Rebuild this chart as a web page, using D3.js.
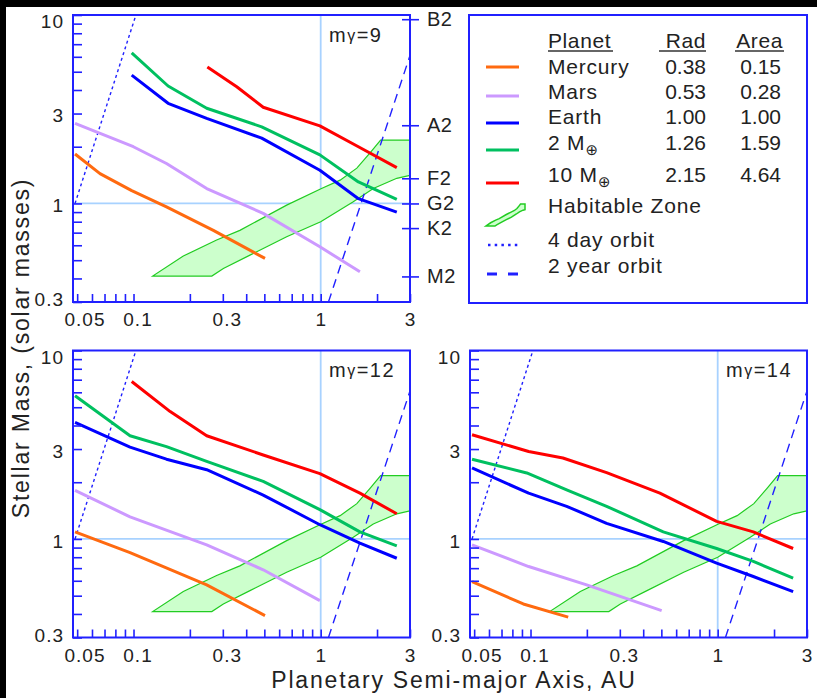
<!DOCTYPE html>
<html><head><meta charset="utf-8">
<script src="https://cdn.jsdelivr.net/npm/d3@7"></script>
<style>
html,body{margin:0;padding:0;background:#000;overflow:hidden;}
svg{display:block;}
text{font-family:"Liberation Sans",Arial,Helvetica,sans-serif;fill:#222;}
</style>
</head><body>
<svg id="c" width="817" height="698"></svg>
<script>
// ---------------- DATA ----------------
const planetNames = ["Mercury", "Mars", "Earth", "2 M", "10 M"];
const planetRad   = ["0.38", "0.53", "1.00", "1.26", "2.15"];
const planetArea  = ["0.15", "0.28", "1.00", "1.59", "4.64"];

// [semi-major axis (AU), stellar mass (solar masses)]
const mercury9 = [[0.0487,1.83],[0.0662,1.44],[0.0978,1.17],[0.150,0.96],[0.267,0.72],[0.504,0.511]];
const mars9    = [[0.0487,2.66],[0.0998,2.0],[0.150,1.63],[0.246,1.20],[0.493,0.886],[0.99,0.589],[1.62,0.434]];
const earth9   = [[0.0978,4.8],[0.153,3.4],[0.246,2.83],[0.484,2.22],[0.99,1.50],[1.59,1.06],[2.55,0.90]];
const twoM9    = [[0.0978,6.3],[0.153,4.2],[0.246,3.2],[0.484,2.55],[0.99,1.81],[1.59,1.30],[2.55,1.05]];
const tenM9    = [[0.248,5.3],[0.356,4.16],[0.493,3.24],[0.99,2.58],[1.59,2.0],[2.55,1.55]];

const mercury12 = [[0.0487,1.09],[0.0958,0.847],[0.246,0.571],[0.504,0.392]];
const mars12    = [[0.0487,1.81],[0.0958,1.31],[0.246,0.93],[0.493,0.686],[0.99,0.471]];
const earth12   = [[0.0487,4.15],[0.0958,3.07],[0.150,2.65],[0.246,2.33],[0.493,1.71],[0.99,1.19],[1.62,0.95],[2.55,0.79]];
const twoM12    = [[0.0487,5.75],[0.0958,3.53],[0.150,3.09],[0.246,2.58],[0.493,2.02],[0.99,1.43],[1.62,1.09],[2.55,0.92]];
const tenM12    = [[0.0978,6.85],[0.157,4.74],[0.246,3.53],[0.493,2.79],[0.99,2.22],[1.62,1.75],[2.55,1.36]];

const mercury14 = [[0.0487,0.594],[0.0915,0.452],[0.159,0.385]];
const mars14    = [[0.0487,0.93],[0.0977,0.714],[0.1995,0.571],[0.502,0.417]];
const earth14   = [[0.0487,2.38],[0.0977,1.75],[0.156,1.49],[0.255,1.21],[0.512,0.97],[0.987,0.744],[1.55,0.632],[2.53,0.526]];
const twoM14    = [[0.0487,2.65],[0.0955,2.24],[0.156,1.82],[0.255,1.49],[0.512,1.09],[0.987,0.89],[1.55,0.76],[2.53,0.62]];
const tenM14    = [[0.0487,3.57],[0.0977,2.91],[0.149,2.69],[0.255,2.25],[0.491,1.75],[0.987,1.24],[1.55,1.09],[2.53,0.89]];

const habitableZone = [[0.1266,0.412],[0.262,0.412],[0.302,0.452],[0.419,0.532],[0.658,0.666],[1.0,0.80],
  [1.493,1.02],[1.91,1.20],[2.55,1.36],[3.0,1.41],[3.0,2.17],[2.09,2.17],[1.83,1.85],[1.56,1.54],
  [1.27,1.33],[1.01,1.20],[0.658,0.98],[0.37,0.72],[0.278,0.64],[0.1845,0.526]];

const fourDayOrbit = [[0.0487,1.0],[0.103,10]];
const twoYearOrbit = [[1.10,0.3],[3.0,6.1]];

const panelMagnitudes = ["9", "12", "14"];
const spectralTypes = ["B2","A2","F2","G2","K2","M2"];
const spectralMass  = [9.5, 2.6, 1.36, 1.0, 0.74, 0.41];

const xDomain = [0.0475, 3];
const yDomain = [0.3, 10];
const xTickValues = [0.05,0.06,0.07,0.08,0.09,0.1,0.2,0.3,0.4,0.5,0.6,0.7,0.8,0.9,1,2,3];
const yTickValues = [0.3,0.4,0.5,0.6,0.7,0.8,0.9,1,2,3,4,5,6,7,8,9,10];
const xTickLabels = [0.05, 0.1, 0.3, 1, 3];
const yTickLabels = [10, 3, 1, 0.3];

// ---------------- STYLE / LAYOUT ----------------
const planetColors = ["#ff6a10", "#cc99ff", "#0000ff", "#00c060", "#ff0000"];
const BLUE = "#2020ff";
const panels = [
  {left:73,  top:15,    w:337, h:287, mag:panelMagnitudes[0], series:[mercury9,mars9,earth9,twoM9,tenM9], spectral:true},
  {left:73,  top:350.5, w:337, h:287, mag:panelMagnitudes[1], series:[mercury12,mars12,earth12,twoM12,tenM12], spectral:false},
  {left:470, top:350.5, w:337, h:287, mag:panelMagnitudes[2], series:[mercury14,mars14,earth14,twoM14,tenM14], spectral:false}
];

const svg = d3.select("#c");
svg.append("rect").attr("x",6).attr("y",7).attr("width",811).attr("height",691).attr("fill","#fff");
const defs = svg.append("defs");

function fmt(v){ return String(v); }

panels.forEach((p, idx) => {
  const x = d3.scaleLog().domain(xDomain).range([p.left, p.left + p.w]);
  const y = d3.scaleLog().domain(yDomain).range([p.top + p.h, p.top]);
  const line = d3.line().x(d => x(d[0])).y(d => y(d[1]));
  const clipId = "clip" + idx;
  defs.append("clipPath").attr("id", clipId).append("rect")
    .attr("x", p.left).attr("y", p.top).attr("width", p.w).attr("height", p.h);

  const g = svg.append("g");
  const pg = g.append("g").attr("clip-path", `url(#${clipId})`);

  pg.append("line").attr("x1", x(1)).attr("x2", x(1)).attr("y1", p.top).attr("y2", p.top + p.h)
    .attr("stroke", "#a8d2ff").attr("stroke-width", 1.8);
  pg.append("line").attr("x1", p.left).attr("x2", p.left + p.w).attr("y1", y(1)).attr("y2", y(1))
    .attr("stroke", "#a8d2ff").attr("stroke-width", 1.8);

  pg.append("path").attr("d", line(habitableZone) + "Z")
    .attr("fill", "#ccffcc").attr("stroke", "#22cc22").attr("stroke-width", 1.2);

  pg.append("path").attr("d", line(fourDayOrbit)).attr("fill", "none")
    .attr("stroke", BLUE).attr("stroke-width", 1.4).attr("stroke-dasharray", "3,3");
  pg.append("path").attr("d", line(twoYearOrbit)).attr("fill", "none")
    .attr("stroke", BLUE).attr("stroke-width", 1.4).attr("stroke-dasharray", "9,6");

  p.series.forEach((s, i) => {
    pg.append("path").attr("d", line(s)).attr("fill", "none")
      .attr("stroke", planetColors[i]).attr("stroke-width", 3)
      .attr("stroke-linejoin", "round").attr("stroke-linecap", "butt");
  });

  const ya = g.append("g").attr("transform", `translate(${p.left},0)`)
    .call(d3.axisRight(y).tickValues(yTickValues).tickSize(9).tickFormat(""));
  const xa = g.append("g").attr("transform", `translate(0,${p.top + p.h})`)
    .call(d3.axisTop(x).tickValues(xTickValues).tickSize(8).tickFormat(""));
  [ya, xa].forEach(a => {
    a.select(".domain").remove();
    a.selectAll(".tick line").attr("stroke", BLUE).attr("stroke-width", 1.6);
  });

  if (p.spectral) {
    const sa = g.append("g").attr("transform", `translate(${p.left + p.w - 8},0)`)
      .call(d3.axisRight(y).tickValues(spectralMass).tickSize(17).tickPadding(8)
        .tickFormat((d, i) => spectralTypes[i]));
    sa.select(".domain").remove();
    sa.selectAll(".tick line").attr("stroke", BLUE).attr("stroke-width", 1.6);
    sa.selectAll(".tick text").attr("font-size", 20).attr("fill", "#222")
      .attr("font-family", '"Liberation Sans",Arial,sans-serif').attr("letter-spacing", 0.5);
  }

  yTickLabels.forEach(v => {
    const cy = Math.max(p.top + 6.5, Math.min(p.top + p.h - 2.5, y(v) + 2));
    g.append("text").attr("x", p.left - 9).attr("y", cy).attr("dy", "0.36em")
      .attr("text-anchor", "end").attr("font-size", 19).attr("letter-spacing", 1)
      .text(fmt(v));
  });
  xTickLabels.forEach(v => {
    const s = fmt(v);
    let cx = x(v) + (s.startsWith("0.") ? 4.5 : 0.5);
    cx = Math.max(p.left + 12, cx);
    g.append("text").attr("x", cx).attr("y", p.top + p.h + 24)
      .attr("text-anchor", "middle").attr("font-size", 19).attr("letter-spacing", 1)
      .text(s);
  });

  const t = g.append("text").attr("x", p.left + 256).attr("y", p.top + 26.5).attr("font-size", 20).attr("letter-spacing", 1.5);
  t.append("tspan").text("m");
  t.append("tspan").attr("font-size", 16).attr("dy", -1).text("γ");
  t.append("tspan").attr("dy", 1).text("=" + p.mag);

  g.append("rect").attr("x", p.left).attr("y", p.top).attr("width", p.w).attr("height", p.h)
    .attr("fill", "none").attr("stroke", BLUE).attr("stroke-width", 2);
});

svg.append("text").attr("x", 454).attr("y", 688).attr("text-anchor", "middle")
  .attr("font-size", 23).attr("letter-spacing", 1.8).text("Planetary Semi-major Axis, AU");
svg.append("text").attr("transform", "translate(29,348) rotate(-90)").attr("text-anchor", "middle")
  .attr("font-size", 23).attr("letter-spacing", 1.8).text("Stellar Mass, (solar masses)");

// ---------------- LEGEND ----------------
const lg = svg.append("g");
lg.append("rect").attr("x", 469).attr("y", 15).attr("width", 338).attr("height", 288)
  .attr("fill", "none").attr("stroke", BLUE).attr("stroke-width", 2);

const headers = [{t:"Planet", x:548, anchor:"start", u:[548,613]}, {t:"Rad", x:706, anchor:"end", u:[659,706]}, {t:"Area", x:783, anchor:"end", u:[735,784]}];
headers.forEach(h => {
  lg.append("text").attr("x", h.x).attr("y", 48).attr("text-anchor", h.anchor).attr("font-size", 21).attr("letter-spacing", 0.6).text(h.t);
  lg.append("line").attr("x1", h.u[0]).attr("x2", h.u[1]).attr("y1", 51).attr("y2", 51)
    .attr("stroke", "#333").attr("stroke-width", 1.3);
});

const rowBase = [74, 99, 124, 150, 182];
const sampleY = [67, 96, 123, 150, 183];
planetNames.forEach((n, i) => {
  const t = lg.append("text").attr("x", 548).attr("y", rowBase[i]).attr("font-size", 21).attr("letter-spacing", 0.8);
  t.append("tspan").text(n);
  if (i >= 3) t.append("tspan").attr("font-size", 15).attr("dy", 5).attr("font-family", '"DejaVu Sans",sans-serif').text("⊕");
  lg.append("text").attr("x", 706).attr("y", rowBase[i]).attr("text-anchor", "end").attr("font-size", 21).text(planetRad[i]);
  lg.append("text").attr("x", 781).attr("y", rowBase[i]).attr("text-anchor", "end").attr("font-size", 21).text(planetArea[i]);
  lg.append("line").attr("x1", 486).attr("x2", 519).attr("y1", sampleY[i]).attr("y2", sampleY[i])
    .attr("stroke", planetColors[i]).attr("stroke-width", 3);
});

const ix = d3.scaleLog().domain([0.1266, 3]).range([486, 525]);
const iy = d3.scaleLog().domain([0.412, 2.17]).range([226, 204]);
lg.append("path").attr("d", d3.line().x(d => ix(d[0])).y(d => iy(d[1]))(habitableZone) + "Z")
  .attr("fill", "#ccffcc").attr("stroke", "#22cc22").attr("stroke-width", 1.5);
lg.append("text").attr("x", 548).attr("y", 213).attr("font-size", 21).attr("letter-spacing", 0.8).text("Habitable Zone");

lg.append("line").attr("x1", 488).attr("x2", 519).attr("y1", 245).attr("y2", 245)
  .attr("stroke", BLUE).attr("stroke-width", 2.5).attr("stroke-dasharray", "2.5,4.2");
lg.append("text").attr("x", 548).attr("y", 247).attr("font-size", 21).attr("letter-spacing", 0.8).text("4 day orbit");

lg.append("line").attr("x1", 487).attr("x2", 519).attr("y1", 274).attr("y2", 274)
  .attr("stroke", BLUE).attr("stroke-width", 3).attr("stroke-dasharray", "10,11");
lg.append("text").attr("x", 548).attr("y", 273).attr("font-size", 21).attr("letter-spacing", 0.8).text("2 year orbit");
</script>
</body></html>
